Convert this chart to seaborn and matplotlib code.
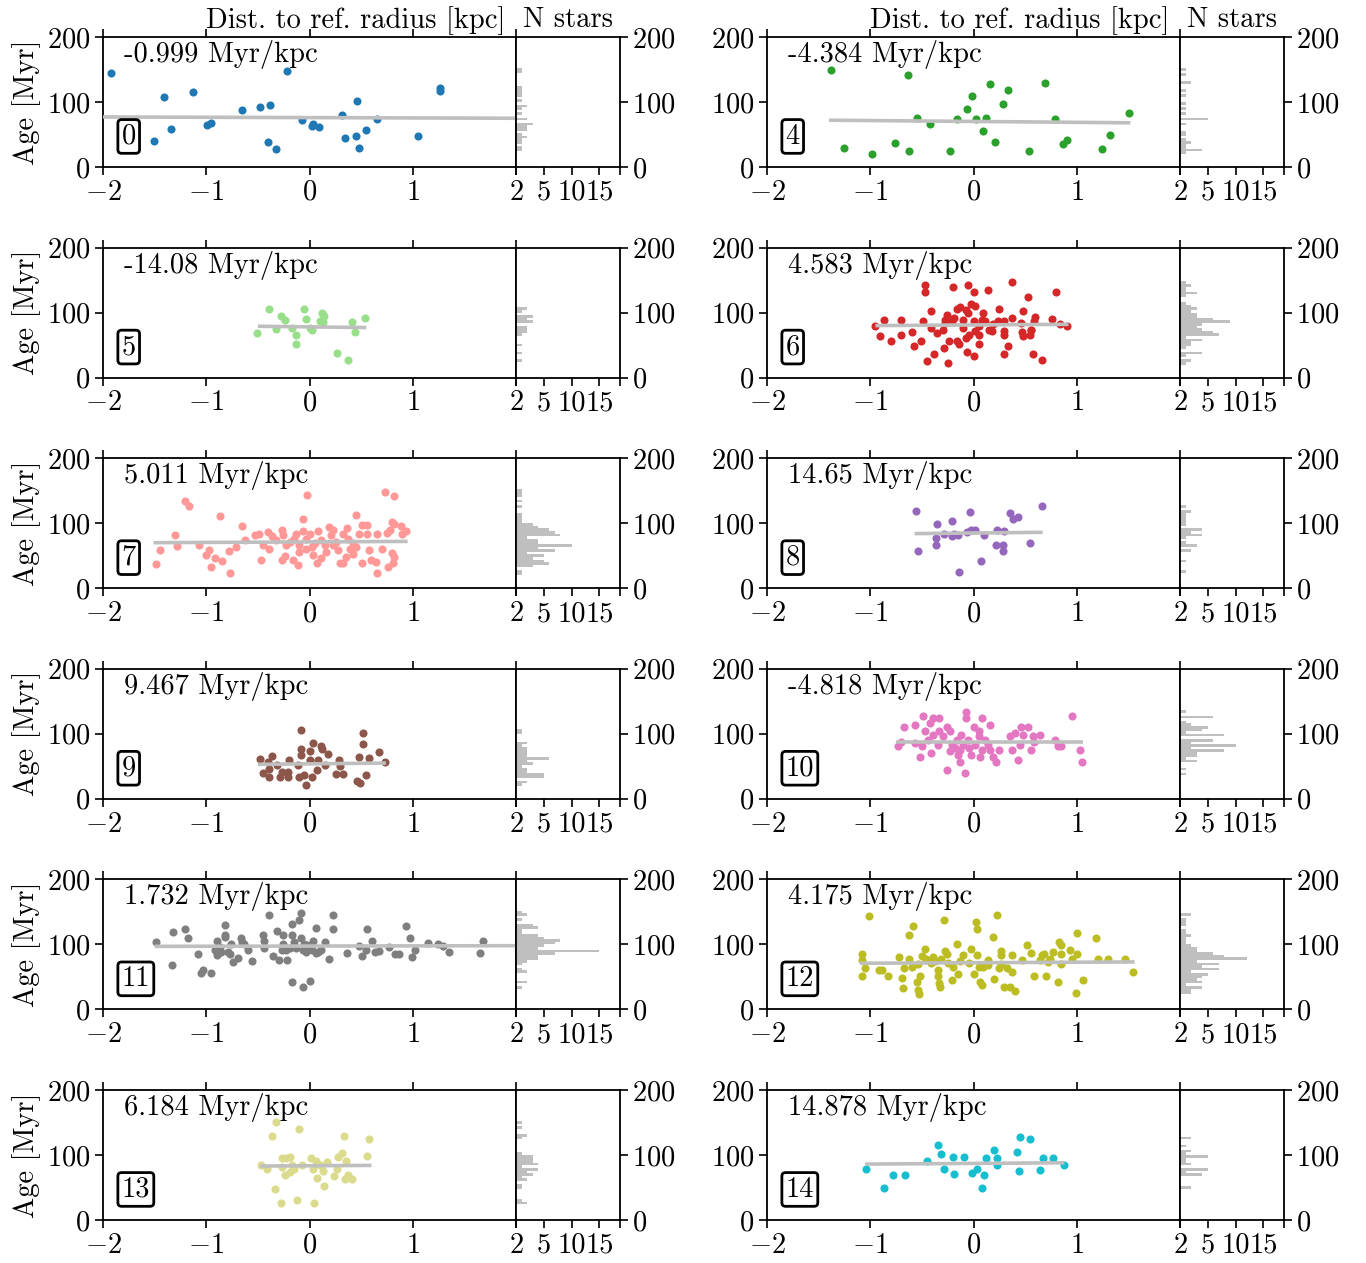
import numpy as np
import matplotlib
matplotlib.use("Agg")
import matplotlib.pyplot as plt
import seaborn as sns

# --- data (x = dist. to ref. radius [kpc], age [Myr]) ---
stars_0 = [(-1.92, 145), (-1.51, 40), (-1.41, 108), (-1.34, 59), (-1.13, 115), (-0.99, 64),
           (-0.95, 67), (-0.65, 88), (-0.48, 92), (-0.38, 95), (-0.40, 39), (-0.32, 27),
           (-0.22, 148), (-0.07, 73), (0.02, 63), (0.03, 66), (0.09, 62), (0.31, 80),
           (0.34, 44), (0.45, 48), (0.46, 101), (0.48, 29), (0.55, 57), (0.65, 74),
           (1.05, 47), (1.26, 117), (1.26, 121)]

stars_4 = [(-1.38, 150), (-1.25, 29), (-0.98, 20), (-0.76, 37), (-0.63, 141), (-0.62, 25),
           (-0.55, 75), (-0.42, 66), (-0.23, 25), (-0.16, 74), (-0.06, 89), (-0.01, 110),
           (0.02, 74), (0.09, 55), (0.12, 75), (0.16, 128), (0.21, 38), (0.29, 97),
           (0.33, 118), (0.54, 24), (0.69, 129), (0.79, 74), (0.87, 35), (0.91, 42),
           (1.24, 27), (1.32, 49), (1.51, 83)]

stars_5 = [(-0.51, 68), (-0.39, 105), (-0.32, 75), (-0.28, 95), (-0.24, 88), (-0.17, 77),
           (-0.13, 65), (-0.13, 51), (-0.05, 105), (-0.03, 90), (0.00, 77), (0.10, 87),
           (0.12, 100), (0.14, 95), (0.13, 85), (0.41, 85), (0.44, 70), (0.54, 92),
           (0.27, 38), (0.37, 27), (0.02, 74)]

stars_6 = [(-0.47, 142), (-0.47, 131), (-0.20, 139), (-0.05, 143), (0.00, 131), (0.14, 135),
           (0.37, 147), (0.53, 124), (0.80, 131),
           (-0.41, 102), (-0.16, 106), (-0.13, 108), (-0.07, 104), (-0.02, 113), (0.01, 110),
           (-0.05, 99), (-0.26, 97), (0.09, 99), (0.25, 106), (0.48, 102), (0.60, 93), (0.37, 92),
           (-0.87, 88), (-0.70, 89), (-0.49, 87), (-0.28, 89), (-0.21, 87), (-0.10, 89),
           (0.00, 87), (0.11, 87), (0.24, 87), (0.30, 87), (0.46, 84), (0.59, 87), (0.76, 90),
           (0.84, 82), (0.91, 80),
           (-0.95, 80), (-0.41, 76), (-0.30, 74), (-0.10, 76), (0.05, 79), (0.15, 74),
           (0.18, 71), (0.30, 71), (0.56, 74),
           (-0.91, 64), (-0.80, 56), (-0.70, 66), (-0.60, 70), (-0.51, 56), (-0.58, 48),
           (-0.35, 69), (-0.24, 56), (-0.16, 57), (-0.14, 52), (-0.07, 61), (-0.04, 66),
           (0.05, 66), (0.05, 52), (0.30, 66), (0.48, 64), (0.55, 66), (0.56, 73), (0.33, 49),
           (-0.29, 46), (-0.38, 37), (-0.06, 39), (0.00, 34), (0.30, 37), (0.58, 36),
           (-0.45, 25), (-0.25, 23), (0.66, 27),
           (0.08, 89), (0.19, 82), (-0.19, 92), (-0.28, 84), (0.47, 70), (0.01, 71)]

stars_7 = [(-1.49, 37), (-1.45, 58), (-1.30, 82), (-1.28, 65), (-1.21, 134), (-1.17, 126),
           (-1.07, 67), (-1.00, 51), (-0.97, 58), (-0.92, 47), (-0.95, 32), (-0.85, 42),
           (-0.87, 111), (-0.77, 23), (-0.78, 57), (-0.71, 64), (-0.65, 95), (-0.62, 74),
           (-0.53, 82), (-0.49, 83), (-0.45, 66), (-0.47, 44), (-0.40, 87), (-0.36, 80),
           (-0.39, 61), (-0.27, 89), (-0.26, 82), (-0.27, 43), (-0.24, 49), (-0.19, 71),
           (-0.15, 76), (-0.16, 43), (-0.11, 35), (-0.10, 56), (-0.06, 106), (-0.06, 88),
           (-0.02, 144), (0.00, 84), (0.02, 64), (0.03, 51), (0.07, 38), (0.08, 88),
           (0.11, 74), (0.11, 46), (0.16, 56), (0.19, 94), (0.21, 82), (0.23, 66),
           (0.28, 58), (0.30, 39), (0.32, 39), (0.32, 84), (0.36, 92), (0.37, 75),
           (0.39, 61), (0.42, 52), (0.45, 112), (0.45, 64), (0.48, 84), (0.51, 97),
           (0.51, 38), (0.56, 97), (0.56, 83), (0.58, 59), (0.60, 43), (0.64, 40),
           (0.65, 84), (0.65, 24), (0.70, 61), (0.73, 148), (0.75, 85), (0.76, 32),
           (0.78, 89), (0.80, 102), (0.80, 54), (0.82, 142), (0.82, 99), (0.81, 38),
           (0.82, 48), (0.89, 95), (0.90, 83), (0.93, 88),
           (-0.13, 84), (-0.03, 76), (0.05, 69), (0.23, 89), (0.26, 71), (0.15, 66),
           (0.42, 69), (0.35, 48), (-0.23, 66), (-0.32, 74), (-0.10, 66), (-0.03, 61)]

stars_8 = [(-0.56, 119), (-0.54, 57), (-0.36, 66), (-0.36, 77), (-0.35, 98), (-0.29, 83),
           (-0.21, 81), (-0.21, 103), (-0.19, 84), (-0.15, 82), (-0.14, 25), (-0.06, 87),
           (-0.03, 117), (-0.02, 90), (0.01, 89), (0.07, 42), (0.10, 82), (0.22, 66),
           (0.23, 89), (0.29, 66), (0.29, 57), (0.30, 88), (0.35, 115), (0.38, 106),
           (0.43, 109), (0.55, 70), (0.66, 127)]

stars_9 = [(-0.48, 61), (-0.45, 39), (-0.40, 57), (-0.39, 33), (-0.39, 46), (-0.36, 66),
           (-0.31, 52), (-0.29, 33), (-0.27, 41), (-0.21, 42), (-0.20, 60), (-0.21, 33),
           (-0.11, 52), (-0.10, 33), (-0.08, 106), (-0.08, 77), (-0.08, 68), (-0.05, 37),
           (-0.03, 22), (0.00, 74), (0.00, 60), (0.02, 34), (0.03, 86), (0.07, 45),
           (0.08, 60), (0.11, 81), (0.12, 77), (0.15, 52), (0.18, 69), (0.26, 38),
           (0.29, 60), (0.30, 51), (0.32, 38), (0.46, 27), (0.49, 24), (0.48, 65),
           (0.52, 101), (0.52, 85), (0.55, 37), (0.58, 63), (0.67, 72), (0.73, 57)]

stars_10 = [(-0.73, 81), (-0.70, 88), (-0.67, 111), (-0.57, 114), (-0.57, 86), (-0.52, 65),
            (-0.49, 127), (-0.50, 81), (-0.47, 104), (-0.44, 91), (-0.42, 116), (-0.41, 70),
            (-0.39, 124), (-0.39, 98), (-0.33, 124), (-0.33, 104), (-0.30, 96), (-0.26, 111),
            (-0.26, 45), (-0.23, 104), (-0.23, 73), (-0.18, 78), (-0.16, 91), (-0.15, 68),
            (-0.13, 57), (-0.12, 98), (-0.10, 83), (-0.07, 134), (-0.07, 124), (-0.08, 39),
            (-0.05, 91), (-0.04, 78), (-0.02, 68), (0.00, 111), (0.01, 83), (0.05, 96),
            (0.06, 65), (0.08, 124), (0.08, 75), (0.11, 91), (0.14, 83), (0.16, 114),
            (0.16, 75), (0.19, 65), (0.22, 57), (0.25, 75), (0.35, 96), (0.37, 75),
            (0.40, 101), (0.43, 60), (0.45, 83), (0.46, 111), (0.48, 98), (0.53, 111),
            (0.56, 75), (0.58, 96), (0.59, 87), (0.64, 98), (0.79, 91), (0.82, 81),
            (0.85, 81), (0.95, 127), (1.03, 75), (1.05, 57), (-0.34, 83), (-0.21, 83),
            (0.05, 104), (-0.13, 75)]

stars_11 = [(-1.49, 103), (-1.33, 68), (-1.32, 119), (-1.21, 124), (-1.18, 110), (-1.08, 86),
            (-1.05, 56), (-1.03, 60), (-0.95, 56), (-0.92, 91), (-0.90, 105), (-0.90, 83),
            (-0.86, 88), (-0.82, 130), (-0.82, 115), (-0.82, 111), (-0.79, 88), (-0.76, 101),
            (-0.74, 73), (-0.77, 86), (-0.69, 79), (-0.66, 110), (-0.65, 104), (-0.63, 101),
            (-0.60, 91), (-0.56, 74), (-0.45, 115), (-0.44, 105), (-0.44, 95), (-0.39, 146),
            (-0.35, 82), (-0.31, 121), (-0.30, 76), (-0.26, 115), (-0.26, 101), (-0.27, 91),
            (-0.22, 76), (-0.19, 95), (-0.17, 42), (-0.17, 131), (-0.17, 115), (-0.15, 104),
            (-0.13, 95), (-0.10, 137), (-0.08, 148), (-0.08, 110), (-0.06, 35), (-0.05, 100),
            (-0.03, 88), (0.00, 43), (0.02, 91), (0.03, 106), (0.06, 126), (0.06, 87),
            (0.11, 91), (0.15, 104), (0.19, 78), (0.23, 146), (0.23, 124), (0.36, 87),
            (0.48, 97), (0.51, 82), (0.55, 91), (0.56, 124), (0.61, 106), (0.63, 88),
            (0.67, 90), (0.77, 96), (0.83, 85), (0.87, 86), (0.93, 128), (0.97, 110),
            (0.99, 81), (1.02, 92), (1.15, 102), (1.24, 100), (1.29, 98), (1.35, 88),
            (1.65, 87), (1.68, 106), (-0.23, 91), (-0.06, 91), (-0.02, 99), (0.08, 88),
            (-0.87, 96)]

stars_12 = [(-1.08, 86), (-1.08, 76), (-1.05, 63), (-1.08, 52), (-1.01, 144), (-0.92, 60),
            (-0.89, 60), (-0.83, 52), (-0.72, 81), (-0.69, 48), (-0.68, 33), (-0.67, 63),
            (-0.62, 115), (-0.59, 128), (-0.62, 78), (-0.60, 66), (-0.55, 42), (-0.54, 30),
            (-0.53, 24), (-0.52, 51), (-0.50, 82), (-0.47, 93), (-0.46, 78), (-0.41, 71),
            (-0.39, 80), (-0.34, 60), (-0.34, 52), (-0.33, 40), (-0.32, 34), (-0.31, 78),
            (-0.29, 138), (-0.28, 90), (-0.26, 86), (-0.25, 71), (-0.21, 46), (-0.20, 65),
            (-0.16, 101), (-0.15, 55), (-0.13, 75), (-0.10, 83), (-0.04, 71), (-0.02, 93),
            (0.00, 55), (0.02, 135), (0.03, 123), (0.03, 83), (0.05, 65), (0.06, 42),
            (0.08, 37), (0.09, 66), (0.14, 76), (0.19, 112), (0.20, 47), (0.23, 146),
            (0.25, 63), (0.27, 90), (0.27, 83), (0.30, 34), (0.32, 63), (0.35, 34),
            (0.37, 83), (0.37, 57), (0.40, 28), (0.47, 76), (0.52, 99), (0.56, 87),
            (0.59, 51), (0.64, 76), (0.66, 83), (0.68, 85), (0.70, 51), (0.74, 78),
            (0.77, 88), (0.82, 42), (0.83, 104), (0.85, 99), (0.85, 86), (0.93, 92),
            (0.95, 78), (1.00, 118), (1.00, 86), (0.99, 26), (1.06, 46), (1.19, 110),
            (1.21, 78), (1.30, 78), (1.47, 78), (1.54, 58), (-0.54, 70), (-0.37, 75),
            (0.14, 68), (0.27, 70), (0.72, 73), (0.85, 70)]

stars_13 = [(-0.47, 84), (-0.41, 79), (-0.36, 130), (-0.33, 48), (-0.32, 151), (-0.28, 26),
            (-0.27, 95), (-0.27, 81), (-0.24, 69), (-0.23, 95), (-0.19, 97), (-0.19, 74),
            (-0.17, 85), (-0.15, 79), (-0.12, 31), (-0.10, 140), (-0.07, 84), (0.01, 95),
            (0.03, 79), (0.04, 26), (0.06, 91), (0.07, 64), (0.10, 85), (0.13, 75),
            (0.14, 53), (0.17, 90), (0.24, 68), (0.27, 79), (0.28, 97), (0.31, 103),
            (0.33, 129), (0.34, 63), (0.35, 91), (0.37, 69), (0.41, 63), (0.56, 99),
            (0.58, 124)]

stars_14 = [(-1.04, 78), (-0.87, 50), (-0.78, 69), (-0.66, 69), (-0.45, 91), (-0.34, 115),
            (-0.31, 101), (-0.29, 79), (-0.20, 97), (-0.19, 71), (-0.09, 97), (-0.01, 73),
            (0.03, 79), (0.08, 50), (0.10, 69), (0.12, 95), (0.20, 107), (0.23, 96),
            (0.23, 85), (0.42, 104), (0.44, 76), (0.45, 127), (0.55, 125), (0.64, 77),
            (0.67, 96), (0.77, 96), (0.88, 85)]

panel_ids = [0, 4, 5, 6, 7, 8, 9, 10, 11, 12, 13, 14]
panel_stars = [stars_0, stars_4, stars_5, stars_6, stars_7, stars_8,
               stars_9, stars_10, stars_11, stars_12, stars_13, stars_14]
slope_labels = ["-0.999 Myr/kpc", "-4.384 Myr/kpc", "-14.08 Myr/kpc", "4.583 Myr/kpc",
                "5.011 Myr/kpc", "14.65 Myr/kpc", "9.467 Myr/kpc", "-4.818 Myr/kpc",
                "1.732 Myr/kpc", "4.175 Myr/kpc", "6.184 Myr/kpc", "14.878 Myr/kpc"]
# fitted line: x range and age at its two ends
fit_x = [(-2.0, 2.0), (-1.40, 1.52), (-0.50, 0.55), (-0.95, 0.92), (-1.51, 0.95), (-0.57, 0.67),
         (-0.50, 0.74), (-0.75, 1.06), (-1.50, 2.0), (-1.10, 1.56), (-0.48, 0.60), (-1.05, 0.88)]
fit_age = [(77, 75), (72, 68), (79, 77), (80, 82), (70, 72), (84, 86),
           (53, 55), (87, 87), (97, 98), (71, 73), (83, 84), (86, 88)]
colors = ["#1f77b4", "#2ca02c", "#98df8a", "#d62728", "#ff9896", "#9467bd",
          "#8c564b", "#e377c2", "#7f7f7f", "#bcbd22", "#dbdb8d", "#17becf"]

# --- style ---
FS = 20.5
sns.set_theme(style="ticks")
plt.rcParams["font.family"] = ["cmr10", "DejaVu Serif"]
plt.rcParams["mathtext.fontset"] = "cm"
plt.rcParams["axes.formatter.use_mathtext"] = True
plt.rcParams["axes.unicode_minus"] = True
plt.rcParams["axes.linewidth"] = 1.3
plt.rcParams["axes.edgecolor"] = "black"
plt.rcParams["text.color"] = "black"
plt.rcParams["axes.labelcolor"] = "black"
plt.rcParams["xtick.labelsize"] = FS
plt.rcParams["ytick.labelsize"] = FS
plt.rcParams["axes.labelsize"] = FS
plt.rcParams["xtick.major.size"] = 5.5
plt.rcParams["ytick.major.size"] = 5.5
plt.rcParams["xtick.major.width"] = 1.2
plt.rcParams["ytick.major.width"] = 1.2
plt.rcParams["xtick.color"] = "black"
plt.rcParams["ytick.color"] = "black"
plt.rcParams["xtick.labelcolor"] = "black"
plt.rcParams["ytick.labelcolor"] = "black"

W, H = 1366, 1263
fig = plt.figure(figsize=(W / 100, H / 100), dpi=100)

col_left = [103, 767]
sc_w, hi_w, ax_h = 413, 104, 130
hist_max = 18.7

for i, pid in enumerate(panel_ids):
    row, col = divmod(i, 2)
    top = 37 + 210.6 * row
    bottom = 1 - (top + ax_h) / H
    ax = fig.add_axes([col_left[col] / W, bottom, sc_w / W, ax_h / H])
    hax = fig.add_axes([(col_left[col] + sc_w) / W, bottom, hi_w / W, ax_h / H])

    x, age = np.array(panel_stars[i], dtype=float).T

    sns.scatterplot(x=x, y=age, ax=ax, color=colors[i], s=34, linewidth=0, zorder=2)
    ax.plot(fit_x[i], fit_age[i], color="#bfbfbf", lw=2.6, zorder=3, solid_capstyle="butt")

    ax.set_xlim(-2, 2)
    ax.set_ylim(0, 200)
    ax.set_xticks([-2, -1, 0, 1, 2])
    ax.set_yticks([0, 100, 200])
    ax.tick_params(direction="out", top=True, labeltop=False, right=False)
    ax.text(0.05, 0.865, slope_labels[i], transform=ax.transAxes, fontsize=FS,
            ha="left", va="center")
    ax.text(0.045, 0.235, str(pid), transform=ax.transAxes, fontsize=FS,
            ha="left", va="center",
            bbox=dict(boxstyle="round,pad=0.13", fc="white", ec="black", lw=2))
    ax.set_ylabel("Age [Myr]" if col == 0 else "")
    if row == 0:
        ax.xaxis.set_label_position("top")
        ax.set_xlabel("Dist. to ref. radius [kpc]", loc="right", labelpad=1)
        ax.xaxis.label.set_x(0.975)
    else:
        ax.set_xlabel("")

    sns.histplot(y=age, ax=hax, binwidth=4, binrange=(0, 200), color="#bfbfbf",
                 alpha=1, linewidth=0)
    hax.set_ylim(0, 200)
    hax.set_xlim(0, hist_max)
    hax.set_xticks([0, 5, 10, 15, hist_max])
    hax.set_xticklabels(["", "5", "10", "15", ""])
    hax.set_xticks([hist_max], minor=True)
    hax.yaxis.tick_right()
    hax.set_yticks([0, 100, 200])
    hax.tick_params(direction="out", left=False, right=True, labelright=True)
    hax.tick_params(which="minor", direction="out", top=True, bottom=False,
                    length=5.5, width=1.2)
    hax.set_ylabel("")
    if row == 0:
        hax.xaxis.set_label_position("top")
        hax.set_xlabel("N stars", labelpad=7.5)
    else:
        hax.set_xlabel("")

fig.savefig("out.png", dpi=100)
